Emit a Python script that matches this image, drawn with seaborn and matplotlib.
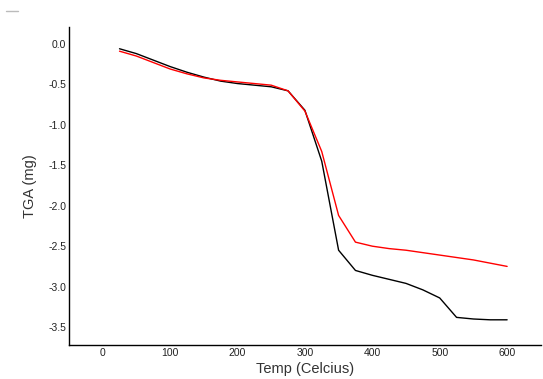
import pandas as pd
import matplotlib
matplotlib.use("Agg")
import matplotlib.pyplot as plt
from matplotlib.lines import Line2D
import seaborn as sns

# Temperature steps (Celcius)
temp = [25, 50, 75, 100, 125, 150, 175, 200, 225, 250, 275, 300,
        325, 350, 375, 400, 425, 450, 475, 500, 525, 550, 575, 600]

# TGA curves (mg)
tga_black = [-0.06, -0.12, -0.20, -0.28, -0.35, -0.41, -0.46, -0.49, -0.51, -0.53, -0.58, -0.82,
             -1.45, -2.55, -2.80, -2.86, -2.91, -2.96, -3.04, -3.14, -3.38, -3.40, -3.41, -3.41]
tga_red = [-0.09, -0.15, -0.23, -0.31, -0.37, -0.42, -0.45, -0.47, -0.49, -0.51, -0.58, -0.83,
           -1.33, -2.12, -2.45, -2.50, -2.53, -2.55, -2.58, -2.61, -2.64, -2.67, -2.71, -2.75]

df = pd.DataFrame({"temp": temp + temp,
                   "tga": tga_black + tga_red,
                   "run": ["black"] * len(temp) + ["red"] * len(temp)})

sns.set_style("white")
plt.rcParams['font.family'] = ['Liberation Sans', 'DejaVu Sans']

fig = plt.figure(figsize=(5.43, 3.79), dpi=100)
ax = fig.add_axes([0.127, 0.090, 0.869, 0.839])

sns.lineplot(data=df, x="temp", y="tga", hue="run",
             palette={"black": "black", "red": "red"},
             linewidth=1, legend=False, ax=ax)

ax.set_xlim(-50, 650)
ax.set_ylim(-3.72, 0.21)
ax.set_xticks([0, 100, 200, 300, 400, 500, 600])
ax.set_yticks([0.0, -0.5, -1.0, -1.5, -2.0, -2.5, -3.0, -3.5])
ax.set_yticklabels(["0.0", "-0.5", "-1.0", "-1.5", "-2.0", "-2.5", "-3.0", "-3.5"])
ax.tick_params(length=0, labelsize=7.5, colors="#222222", pad=2)
ax.set_xlabel("Temp (Celcius)", fontsize=10.5, color="#333333", labelpad=3)
ax.set_ylabel("TGA (mg)", fontsize=10.5, color="#333333", labelpad=8)

sns.despine(ax=ax)
for s in ["left", "bottom"]:
    ax.spines[s].set_color("black")
    ax.spines[s].set_linewidth(1)

# empty legend marker at top left
fig.legend(handles=[Line2D([], [], color="#bbbbbb", lw=1)], labels=[""],
           loc="upper left", bbox_to_anchor=(-0.005, 1.01), frameon=False,
           handlelength=0.9, borderpad=0.4, borderaxespad=0.2)

fig.savefig("out.png", dpi=100)
